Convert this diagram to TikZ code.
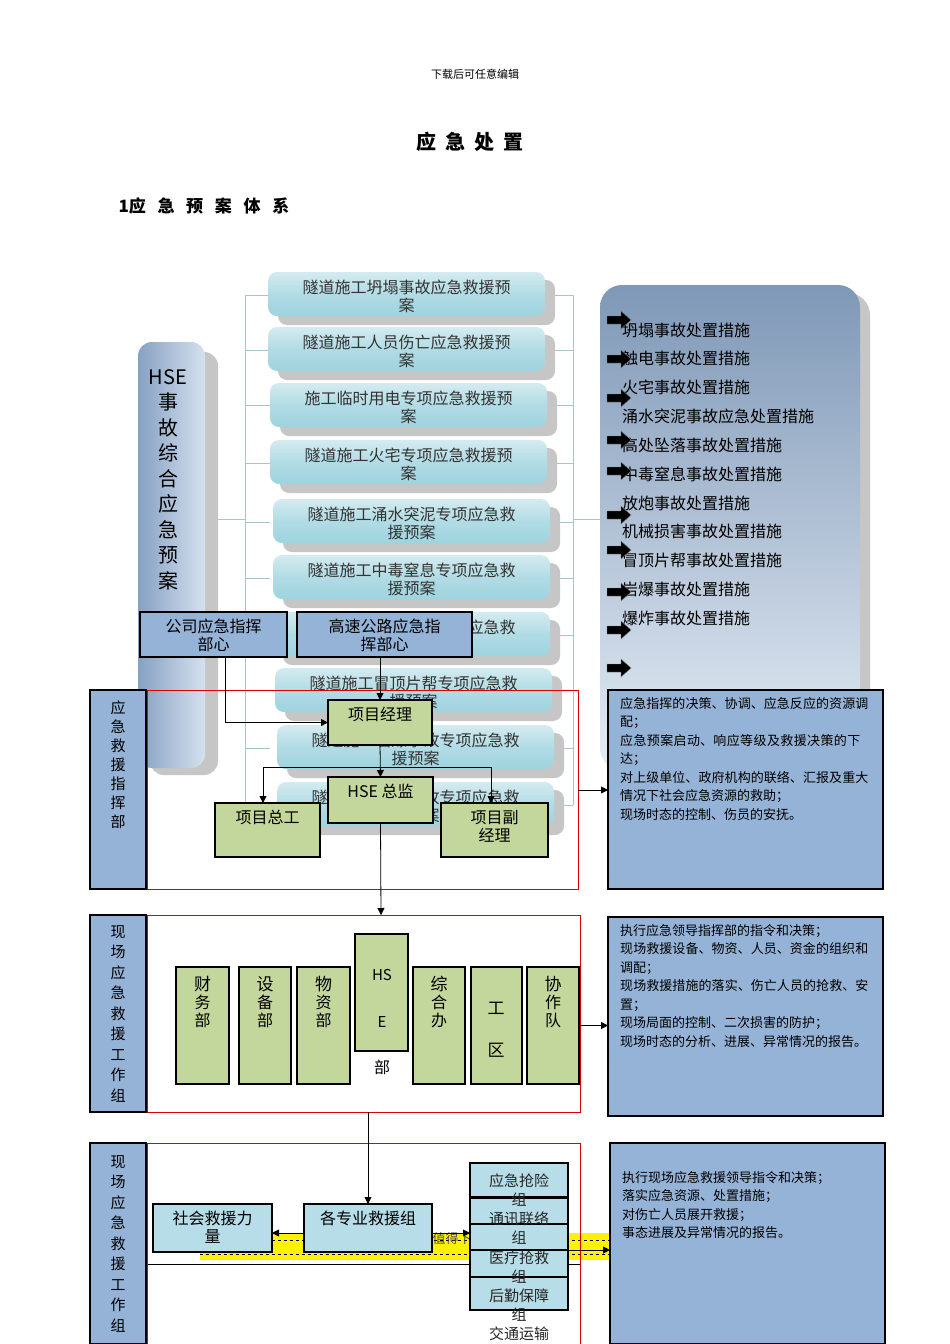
\documentclass[tikz,border=0pt]{standalone}
\usepackage{fontspec}
\setmainfont{Noto Sans CJK SC}
\XeTeXlinebreaklocale "zh"
\XeTeXlinebreakskip=0pt plus 1pt
\usetikzlibrary{arrows.meta}
\definecolor{lbl}{HTML}{95B3D7}
\definecolor{grn}{HTML}{C3D69B}
\definecolor{lbx}{HTML}{B7DDE8}
\definecolor{cyl}{HTML}{9ED3DE}
\definecolor{brk}{HTML}{A9C4CC}
\tikzset{x=1pt,y=-1pt,
 box/.style={draw=black,line width=1.6pt,inner sep=0,outer sep=0},
 bluebox/.style={box,fill=lbl},
 grnbox/.style={box,fill=grn},
 ltbox/.style={box,fill=lbx},
 redfr/.style={draw=red!85!black,line width=0.6pt},
 conn/.style={draw=black,line width=0.8pt},
 arr/.style={conn,-{Triangle[length=7pt,width=7pt]}},
 brkl/.style={draw=brk,line width=0.6pt},
 t15/.style={font=\fontsize{16}{18}\selectfont,align=center,inner sep=1pt},
 t13/.style={font=\fontsize{13}{18.5}\selectfont,align=left,inner sep=0pt},
}
\newcommand\bx[7]{\node[#6,anchor=north west,minimum width={(#4-#2)*1pt},minimum height={(#5-#3)*1pt}] (#1) at (#2,#3) {};
 \node[t15,anchor=north] at ([yshift=-6pt]#1.north) {#7};}
\newcommand\cyl[3]{%
 \fill[gray!45,rounded corners=9pt] (#1+10,#2+8) rectangle (#1+287,#2+53);
 \node[anchor=north west,minimum width=277pt,minimum height=44pt,rounded corners=9pt,top color=cyl!45,bottom color=cyl,middle color=cyl!80,inner sep=0,outer sep=0] (c#1#2) at (#1,#2) {};
 \node[t15,anchor=north,text=black!80] at ([yshift=-7pt]c#1#2.north) {#3};}
\newcommand\blk[2]{\fill[black,draw=gray] (#1-12,#2-4) -- (#1+2,#2-4) -- (#1+2,#2-9) -- (#1+12,#2) -- (#1+2,#2+9) -- (#1+2,#2+4) -- (#1-12,#2+4) -- cycle;}
\begin{document}
\begin{tikzpicture}
\useasboundingbox[fill=white] (0,0) rectangle (950,1344);
\node[font=\fontsize{11}{12}\selectfont] (hdr) at (475,74) {下载后可任意编辑};
\node[font=\bfseries\fontsize{20}{22}\selectfont] (ttl) at (470,142) {应\ \ 急\ \ 处\ \ 置};
\node[font=\bfseries\fontsize{17}{19}\selectfont,anchor=west] (sub) at (115,206) {1应\ \ \ 急\ \ \ 预\ \ \ 案\ \ \ 体\ \ \ 系};
% bracket lines
\draw[brkl] (245,295) -- (245,805);
\draw[brkl] (573,295) -- (573,805);
\foreach \yy in {295,350,405,463,522,578,635,690,748,805}{\draw[brkl] (245,\yy) -- (270,\yy); \draw[brkl] (548,\yy) -- (573,\yy);}
\draw[brkl] (205,519) -- (245,519);
\draw[brkl] (573,519) -- (600,519);
% left HSE box
\fill[gray!45,rounded corners=14pt] (150,352) rectangle (218,775);
\node[anchor=north west,minimum width=67pt,minimum height=426pt,rounded corners=14pt,left color=lbl!90!black,right color=lbl!40,inner sep=0,outer sep=0] (hse) at (138,342) {};
\node[font=\fontsize{20}{25.5}\selectfont,align=center,anchor=north] at (168,366) {HSE\\事\\故\\综\\合\\应\\急\\预\\案};
% cylinders
\cyl{268}{272}{隧道施工坍塌事故应急救援预\\案}
\cyl{268}{327}{隧道施工人员伤亡应急救援预\\案}
\cyl{270}{383}{施工临时用电专项应急救援预\\案}
\cyl{270}{440}{隧道施工火宅专项应急救援预\\案}
\cyl{273}{499}{隧道施工涌水突泥专项应急救\\援预案}
\cyl{273}{555}{隧道施工中毒窒息专项应急救\\援预案}
\cyl{273}{612}{隧道施工机械伤害专项应急救\\援预案}
\cyl{275}{668}{隧道施工冒顶片帮专项应急救\\援预案}
\cyl{277}{725}{隧道施工岩爆事故专项应急救\\援预案}
\cyl{277}{782}{隧道施工爆炸事故专项应急救\\援预案}
% right panel
\fill[gray!45,rounded corners=22pt] (610,293) rectangle (870,778);
\node[anchor=north west,minimum width=260pt,minimum height=485pt,rounded corners=22pt,top color=lbl!85!black,bottom color=lbl!25,inner sep=0,outer sep=0] (rp) at (600,285) {};
\foreach \yy/\tx in {330/坍塌事故处置措施,358/触电事故处置措施,387/火宅事故处置措施,416/涌水突泥事故应急处置措施,445/高处坠落事故处置措施,474/中毒窒息事故处置措施,503/放炮事故处置措施,531/机械损害事故处置措施,560/冒顶片帮事故处置措施,589/岩爆事故处置措施,618/爆炸事故处置措施}
 {\node[font=\fontsize{16}{17}\selectfont,anchor=west,inner sep=0] at (622,\yy) {\tx};}
\foreach \yy in {320,359,398,440,471,515,550,592,630,668}{\blk{619}{\yy}}
% command boxes
\bx{gs}{140}{612}{287}{657}{bluebox}{公司应急指挥\\部心}
\bx{gl}{297}{612}{472}{657}{bluebox}{高速公路应急指\\挥部心}
% frame 1
\draw[redfr] (147,690) rectangle (578,889);
\bx{l1}{90}{690}{146}{889}{bluebox}{}
\node[font=\fontsize{15}{19}\selectfont,align=center,anchor=north] at (118,697) {应\\急\\救\\援\\指\\挥\\部};
\bx{pm}{328}{700}{432}{745}{grnbox}{项目经理}
\bx{hs}{328}{777}{433}{823}{grnbox}{HSE 总监}
\bx{zg}{215}{803}{320}{857}{grnbox}{项目总工}
\bx{fj}{441}{803}{548}{857}{grnbox}{项目副\\经理}
\draw[arr] (gl.south -| pm) -- (pm.north);
\draw[arr] ([xshift=12pt]gs.south) |- (pm.west);
\draw[arr] (pm.south) -- (hs.north);
\draw[conn] (263,767) -- (491,767);
\draw[arr] (263,767) -- (zg.north -| 263,0);
\draw[arr] (491,767) -- (fj.north -| 491,0);
% right box 1
\bx{r1}{608}{690}{883}{889}{bluebox}{}
\node[t13,anchor=north west,text width=250pt] at (620,697) {应急指挥的决策、协调、应急反应的资源调配；\\应急预案启动、响应等级及救援决策的下达；\\对上级单位、政府机构的联络、汇报及重大情况下社会应急资源的救助；\\现场时态的控制、伤员的安抚。};
\coordinate (f1r) at (578,790);
\draw[arr] (f1r) -- (r1.west |- f1r);
% frame 2
\draw[redfr] (147,915) rectangle (580,1112);
\coordinate (f2t) at (381,915);
\draw[arr] (hs.south) -- (f2t);
\bx{l2}{90}{915}{146}{1112}{bluebox}{}
\node[font=\fontsize{15}{20.5}\selectfont,align=center,anchor=north] at (118,922) {现\\场\\应\\急\\救\\援\\工\\作\\组};
\node[font=\fontsize{16}{17}\selectfont] at (382,1067) {部};
\bx{cw}{176}{967}{229}{1084}{grnbox}{\\[-2pt]\fontsize{17}{25}\selectfont 财\\务\\部}
\bx{sb}{239}{967}{291}{1084}{grnbox}{\\[-2pt]\fontsize{17}{25}\selectfont 设\\备\\部}
\bx{wz}{297}{967}{350}{1084}{grnbox}{\\[-2pt]\fontsize{17}{25}\selectfont 物\\资\\部}
\bx{he}{355}{934}{408}{1051}{grnbox}{}
\node[font=\fontsize{15}{16}\selectfont] at (382,975) {HS};
\node[font=\fontsize{15}{16}\selectfont] at (382,1022) {E};
\bx{zh}{413}{967}{465}{1084}{grnbox}{\\[-2pt]\fontsize{17}{25}\selectfont 综\\合\\办}
\bx{gq}{471}{967}{522}{1084}{grnbox}{}
\node[font=\fontsize{17}{18}\selectfont] at (496,1008) {工};
\node[font=\fontsize{17}{18}\selectfont] at (496,1050) {区};
\bx{xz}{527}{967}{579}{1084}{grnbox}{\\[-2pt]\fontsize{17}{25}\selectfont 协\\作\\队}
\bx{r2}{608}{917}{883}{1116}{bluebox}{}
\node[t13,anchor=north west,text width=250pt] at (620,924) {执行应急领导指挥部的指令和决策；\\现场救援设备、物资、人员、资金的组织和调配；\\现场救援措施的落实、伤亡人员的抢救、安置；\\现场局面的控制、二次损害的防护；\\现场时态的分析、进展、异常情况的报告。};
\draw[arr] (xz.east) -- (r2.west |- xz.east);
% frame 3
\fill[yellow] (200,1233) rectangle (610,1260);
\draw[dashed,line width=0.5pt] (200,1240) -- (610,1240);
\draw[dashed,line width=0.5pt] (200,1254) -- (610,1254);
\node[font=\fontsize{13}{14}\selectfont,text=black!70] at (452,1239) {值得下};
\draw[conn] (147,1264) -- (580,1264);
\draw[redfr] (147,1143) rectangle (580,1344);
\bx{l3}{90}{1143}{146}{1344}{bluebox}{}
\node[font=\fontsize{15}{20.5}\selectfont,align=center,anchor=north] at (118,1152) {现\\场\\应\\急\\救\\援\\工\\作\\组};
\bx{sh}{153}{1204}{272}{1252}{ltbox}{社会救援力\\量}
\bx{gz}{304}{1204}{432}{1252}{ltbox}{各专业救援组}
\coordinate (f2b) at (368,1112);
\draw[arr] (f2b) -- (gz.north -| f2b);
\bx{s1}{470}{1163}{568}{1197}{ltbox}{}
\bx{s2}{470}{1198}{568}{1224}{ltbox}{}
\bx{s3}{470}{1224}{568}{1250}{ltbox}{}
\bx{s4}{470}{1250}{568}{1277}{ltbox}{}
\bx{s5}{470}{1277}{568}{1310}{ltbox}{}
\foreach \yy/\tx in {1181/应急抢险,1200/组,1219/通讯联络,1238/组,1258/医疗抢救,1277/组,1296/后勤保障,1315/组,1334/交通运输}
 {\node[font=\fontsize{15}{16}\selectfont,text=black!85] at (519,\yy) {\tx};}
\coordinate (gzl) at ([yshift=-5pt]gz.west);
\draw[arr] (gzl) -- (sh.east |- gzl);
\coordinate (gzr) at ([yshift=-5pt]gz.east);
\draw[arr] (gzr) -- (s2.west |- gzr);
\bx{r3}{610}{1143}{885}{1344}{bluebox}{}
\node[t13,anchor=north west,text width=250pt] at (622,1171) {执行现场应急救援领导指令和决策；\\落实应急资源、处置措施；\\对伤亡人员展开救援；\\事态进展及异常情况的报告。};
\coordinate (s3r) at (568,1250);
\draw[arr] (s3r) -- (r3.west |- s3r);
\end{tikzpicture}
\end{document}
